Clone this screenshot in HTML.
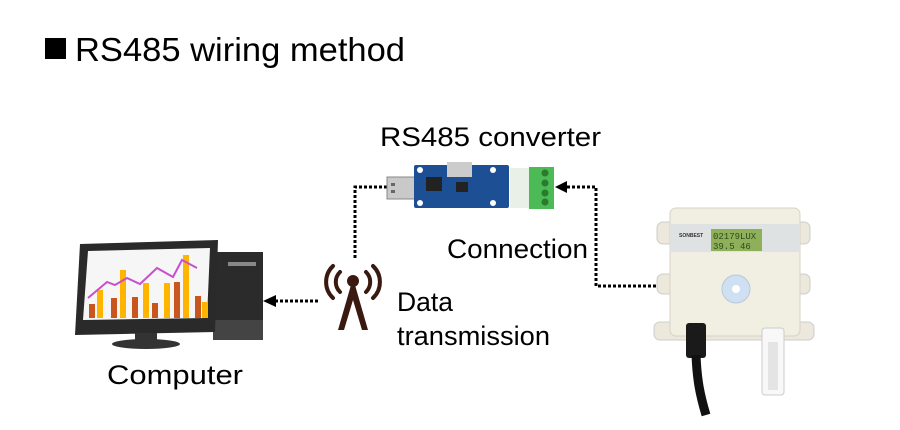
<!DOCTYPE html>
<html><head><meta charset="utf-8"><style>
html,body{margin:0;padding:0;background:#fff;}
svg{display:block;font-family:"Liberation Sans",sans-serif;}
</style></head><body>
<svg width="900" height="430" viewBox="0 0 900 430" xmlns="http://www.w3.org/2000/svg">
<rect x="45" y="38" width="21" height="21" fill="#000"/>
<text x="75" y="61" font-size="33" fill="#000" textLength="330" lengthAdjust="spacingAndGlyphs">RS485 wiring method</text>
<text x="380" y="146" font-size="27" fill="#000" textLength="221" lengthAdjust="spacingAndGlyphs">RS485 converter</text>
<text x="447" y="258" font-size="27" fill="#000" textLength="141" lengthAdjust="spacingAndGlyphs">Connection</text>
<text x="397" y="311" font-size="27" fill="#000" textLength="56" lengthAdjust="spacingAndGlyphs">Data</text>
<text x="397" y="345" font-size="27" fill="#000" textLength="153" lengthAdjust="spacingAndGlyphs">transmission</text>
<text x="107" y="384" font-size="27" fill="#000" textLength="136" lengthAdjust="spacingAndGlyphs">Computer</text>

<!-- dotted connectors -->
<g stroke="#000" stroke-width="3" stroke-dasharray="3,2" fill="none">
<polyline points="355,258 355,187 388,187"/>
<polyline points="656,286 596,286 596,187 566,187"/>
<line x1="318" y1="301" x2="276" y2="301"/>
</g>
<polygon points="555,187 567,181 567,193" fill="#000"/>
<polygon points="263,301 276,295 276,307" fill="#000"/>

<!-- USB converter -->
<rect x="387" y="177" width="29" height="22" fill="#c9c9c9" stroke="#888"/>
<rect x="391" y="183" width="4" height="3" fill="#666"/><rect x="391" y="190" width="4" height="3" fill="#666"/>
<rect x="414" y="165" width="95" height="43" rx="2" fill="#1c4f94"/>
<rect x="447" y="162" width="25" height="15" fill="#ccc"/>
<rect x="426" y="177" width="16" height="14" fill="#222"/>
<rect x="456" y="182" width="12" height="10" fill="#222"/>
<circle cx="420" cy="170" r="3" fill="#fff"/><circle cx="420" cy="203" r="3" fill="#fff"/>
<circle cx="493" cy="170" r="3" fill="#fff"/><circle cx="493" cy="203" r="3" fill="#fff"/>
<rect x="510" y="168" width="24" height="40" fill="#e8f0e8"/>
<rect x="529" y="167" width="25" height="42" fill="#4dbb55"/>
<circle cx="545" cy="173" r="3.5" fill="#2a7a30"/><circle cx="545" cy="183" r="3.5" fill="#2a7a30"/>
<circle cx="545" cy="193" r="3.5" fill="#2a7a30"/><circle cx="545" cy="202" r="3.5" fill="#2a7a30"/>

<!-- computer -->
<rect x="213" y="252" width="50" height="88" fill="#2b2b2b"/>
<rect x="213" y="320" width="50" height="20" fill="#444"/>
<rect x="228" y="262" width="28" height="4" fill="#888"/>
<polygon points="80,244 218,240 215,332 75,335" fill="#2a2a2a"/>
<polygon points="88,251 210,248 207,318 83,320" fill="#f6f6f6"/>
<g fill="#ffb400">
<rect x="97" y="290" width="6" height="28"/><rect x="120" y="270" width="6" height="48"/>
<rect x="143" y="283" width="6" height="35"/><rect x="164" y="283" width="6" height="35"/>
<rect x="183" y="255" width="6" height="63"/><rect x="202" y="302" width="6" height="16"/></g>
<g fill="#c8561e">
<rect x="89" y="304" width="6" height="14"/><rect x="111" y="298" width="6" height="20"/>
<rect x="132" y="297" width="6" height="21"/><rect x="152" y="303" width="6" height="15"/>
<rect x="174" y="282" width="6" height="36"/><rect x="195" y="296" width="6" height="22"/></g>
<polyline points="88,298 107,282 115,285 127,278 140,284 157,268 173,277 182,260 197,268" stroke="#c84fd0" stroke-width="2" fill="none"/>
<rect x="135" y="333" width="22" height="8" fill="#333"/>
<ellipse cx="146" cy="344" rx="34" ry="5" fill="#333"/>

<!-- antenna -->
<g stroke="#3a1a10" stroke-width="4" fill="none" stroke-linecap="round">
<path d="M340,272 a14,14 0 0 0 0,20"/><path d="M333,266 a22,22 0 0 0 0,32"/>
<path d="M366,272 a14,14 0 0 1 0,20"/><path d="M373,266 a22,22 0 0 1 0,32"/>
</g>
<circle cx="353" cy="281" r="6" fill="#3a1a10"/>
<polygon points="351,285 355,285 368,330 362,330 353,300 344,330 338,330" fill="#3a1a10"/>

<!-- sensor -->
<rect x="657" y="222" width="153" height="22" rx="6" fill="#ece9dc" stroke="#ccc"/>
<rect x="657" y="274" width="153" height="20" rx="6" fill="#ece9dc" stroke="#ccc"/>
<rect x="654" y="322" width="160" height="18" rx="6" fill="#ece9dc" stroke="#ccc"/>
<rect x="670" y="208" width="130" height="128" rx="6" fill="#f1eee2" stroke="#d6d3c6"/>
<rect x="670" y="224" width="130" height="28" fill="#dfe2e3"/>
<rect x="711" y="229" width="51" height="22" fill="#8fb05a"/>
<text x="713" y="239" font-size="9" fill="#2f4a1a" font-family="Liberation Mono,monospace">02179LUX</text>
<text x="713" y="249" font-size="9" fill="#2f4a1a" font-family="Liberation Mono,monospace">39.5 46</text>
<text x="679" y="237" font-size="5" fill="#333" font-weight="bold">SONBEST</text>
<circle cx="736" cy="289" r="14" fill="#cfe0f2" stroke="#b8c8da"/>
<circle cx="736" cy="289" r="4" fill="#fff"/>
<rect x="686" y="323" width="20" height="35" rx="3" fill="#1a1a1a"/>
<path d="M696,355 C697,380 700,395 706,415" stroke="#111" stroke-width="9" fill="none"/>
<rect x="762" y="328" width="22" height="67" rx="3" fill="#f8f8f8" stroke="#ccc"/>
<rect x="768" y="342" width="10" height="48" fill="#e4e4e4"/>
</svg>
</body></html>
